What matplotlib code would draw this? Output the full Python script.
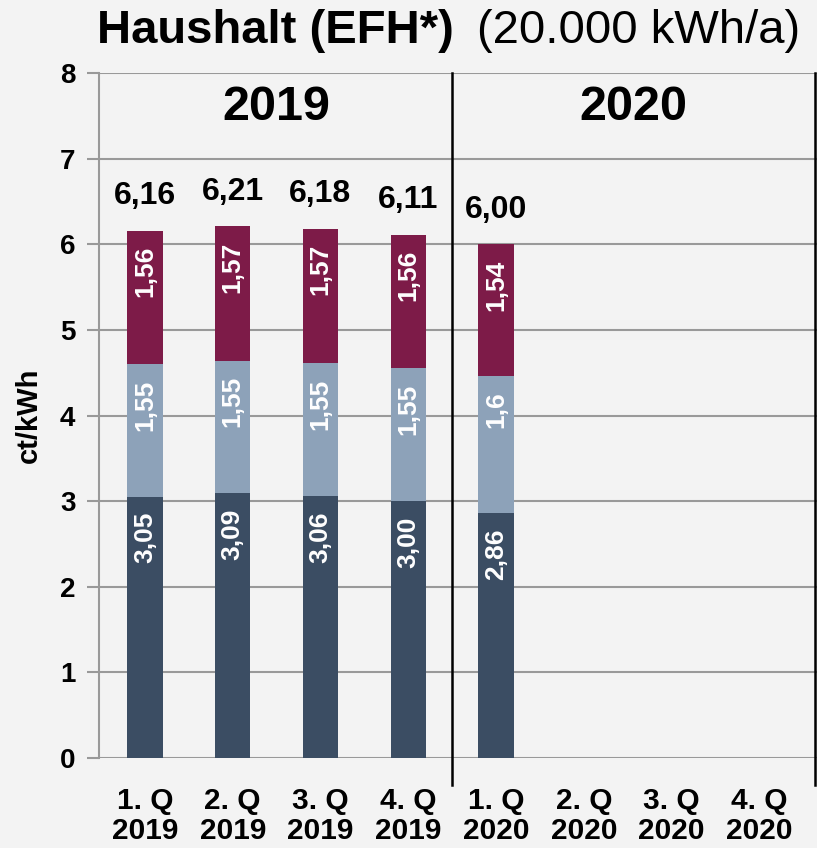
import numpy as np
import matplotlib.pyplot as plt

# DATEN
quartale = ['1. Q\n2019', '2. Q\n2019', '3. Q\n2019', '4. Q\n2019',
            '1. Q\n2020', '2. Q\n2020', '3. Q\n2020', '4. Q\n2020']
unten = [3.05, 3.09, 3.06, 3.00, 2.86]
mitte = [1.55, 1.55, 1.55, 1.55, 1.6]
oben = [1.56, 1.57, 1.57, 1.56, 1.54]
summe = [6.16, 6.21, 6.18, 6.11, 6.00]
unten_txt = ['3,05', '3,09', '3,06', '3,00', '2,86']
mitte_txt = ['1,55', '1,55', '1,55', '1,55', '1,6']
oben_txt = ['1,56', '1,57', '1,57', '1,56', '1,54']
summe_txt = ['6,16', '6,21', '6,18', '6,11', '6,00']
jahre = ['2019', '2020']

plt.rcParams['font.family'] = ['Liberation Sans', 'DejaVu Sans']
bg = '#f3f3f3'
c_unten, c_mitte, c_oben = '#3b4d63', '#8da2b9', '#7d1b48'

fig = plt.figure(figsize=(8.17, 8.48), dpi=100, facecolor=bg)
ax = fig.add_axes([99/817, 1 - 758/848, 1 - 99/817, (758 - 73)/848], facecolor=bg)

x = np.arange(len(unten))
b = np.array(unten)
m = np.array(mitte)
w = 0.4
ax.bar(x, unten, w, color=c_unten, zorder=3)
ax.bar(x, mitte, w, bottom=b, color=c_mitte, zorder=3)
ax.bar(x, oben, w, bottom=b + m, color=c_oben, zorder=3)

# BESCHRIFTUNGEN IN DEN SEGMENTEN
for i in x:
    for top, txt in [(b[i], unten_txt[i]), (b[i] + m[i], mitte_txt[i]), (summe[i], oben_txt[i])]:
        ax.annotate(txt, (i, top), xytext=(0, -11), textcoords='offset points',
                    rotation=90, ha='center', va='top', color='white',
                    fontsize=19, fontweight='bold', zorder=4)
    ax.annotate(summe_txt[i], (i, summe[i]), xytext=(0, 25), textcoords='offset points',
                ha='center', va='center', fontsize=23, fontweight='bold')

# ACHSEN
ax.set_xlim(-0.524, 7.658)
ax.set_ylim(0, 8)
ax.set_yticks(range(9))
ax.set_xticks(range(len(quartale)))
ax.set_xticklabels(quartale, fontsize=21.5, fontweight='bold', linespacing=1.1)
ax.tick_params(axis='x', length=0, pad=21)
ax.tick_params(axis='y', length=9, color='#999999', width=1.5, labelsize=20, pad=8)
for lab in ax.get_yticklabels():
    lab.set_fontweight('bold')
ax.grid(axis='y', color='#999999', linewidth=1.5, zorder=0)
for s in ['top', 'right', 'bottom']:
    ax.spines[s].set_visible(False)
ax.spines['left'].set_color('#999999')
ax.spines['left'].set_linewidth(1.5)
ax.set_ylabel('ct/kWh', fontsize=21, fontweight='bold', labelpad=12)

# TRENNLINIEN UND JAHRE
for xl in [3.5, 7.635]:
    ax.plot([xl, xl], [-0.32, 8], color='black', linewidth=1.8, clip_on=False, zorder=5)
ax.text(1.5, 7.6, jahre[0], ha='center', va='center', fontsize=35, fontweight='bold')
ax.text(5.57, 7.6, jahre[1], ha='center', va='center', fontsize=35, fontweight='bold')

# TITEL
fig.text(97/817, 1 - 31/848, 'Haushalt (EFH*)', ha='left', va='center',
         fontsize=34, fontweight='bold')
fig.text(800/817, 1 - 31/848, '(20.000 kWh/a)', ha='right', va='center', fontsize=34)

fig.savefig('out.png', dpi=100, facecolor=bg)
